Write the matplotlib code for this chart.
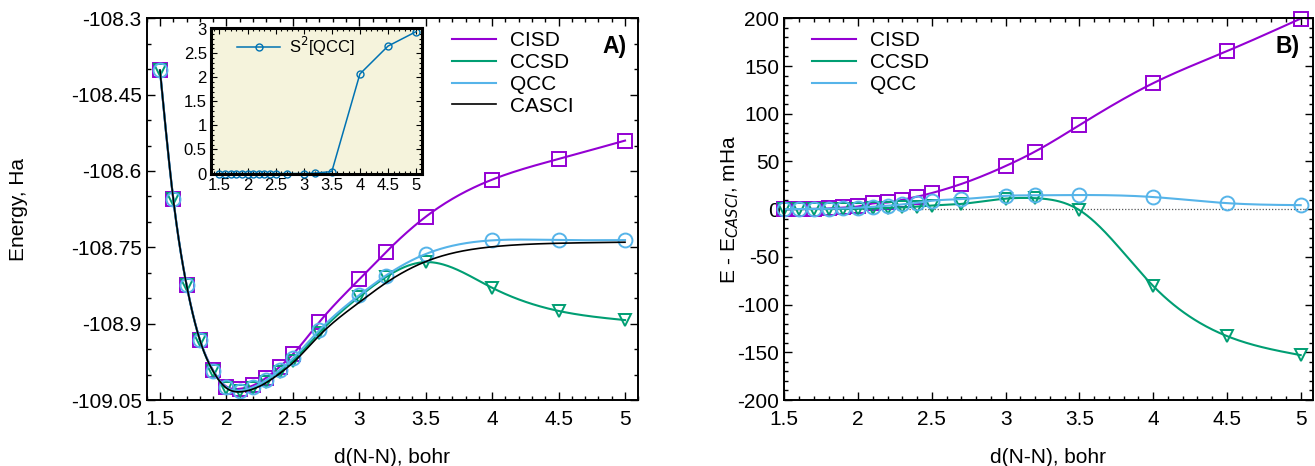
import numpy as np
import matplotlib
matplotlib.use("Agg")
import matplotlib.pyplot as plt
from matplotlib.ticker import MultipleLocator, FormatStrFormatter

plt.rcParams['font.family'] = ['Liberation Sans', 'DejaVu Sans']
plt.rcParams['axes.unicode_minus'] = False

# bond lengths, bohr
d = [1.5, 1.6, 1.7, 1.8, 1.9, 2.0, 2.1, 2.2, 2.3, 2.4, 2.5, 2.7, 3.0, 3.2, 3.5, 4.0, 4.5, 5.0]

# CASCI energies, Ha
e_casci = [-108.402, -108.655, -108.824, -108.932, -108.9935, -109.0265, -109.034, -109.0285,
           -109.016, -108.998, -108.977, -108.923, -108.858, -108.820, -108.778, -108.749,
           -108.742, -108.740]

# E - E_CASCI, mHa
d_cisd = [0.0, 0.0, 0.3, 0.7, 1.8, 2.8, 6.0, 7.0, 9.8, 13.0, 16.9, 26.4, 45.2, 60.4, 88.0, 132.0, 165.6, 199.7]
d_ccsd = [0.0, 0.0, 0.0, 0.1, 0.2, 0.4, 0.8, 1.2, 1.8, 2.7, 3.8, 5.5, 11.0, 11.5, -1.0, -80.5, -133.0, -153.0]
d_qcc = [0.0, 0.1, 0.2, 0.4, 0.8, 1.5, 2.5, 3.5, 5.0, 6.7, 8.8, 10.5, 14.0, 14.5, 14.8, 12.7, 6.3, 4.2]

# <S^2> of QCC wavefunction
s2_qcc = [0, 0, 0, 0, 0, 0, 0, 0, 0, 0, 0, 0, 0, 0.01, 0.04, 2.07, 2.65, 2.95]

c_cisd = '#9400d3'
c_ccsd = '#009e73'
c_qcc = '#56b4e9'
c_s2 = '#0072b2'

FS = 15


def cspline(x, y, num=400):
    # natural cubic spline, like gnuplot "smooth csplines"
    x = np.asarray(x, float)
    y = np.asarray(y, float)
    n = len(x)
    h = np.diff(x)
    A = np.zeros((n, n))
    b = np.zeros(n)
    A[0, 0] = A[-1, -1] = 1
    for i in range(1, n - 1):
        A[i, i - 1] = h[i - 1]
        A[i, i] = 2 * (h[i - 1] + h[i])
        A[i, i + 1] = h[i]
        b[i] = 6 * ((y[i + 1] - y[i]) / h[i] - (y[i] - y[i - 1]) / h[i - 1])
    M = np.linalg.solve(A, b)
    xs = np.linspace(x[0], x[-1], num)
    k = np.clip(np.searchsorted(x, xs) - 1, 0, n - 2)
    t0 = x[k + 1] - xs
    t1 = xs - x[k]
    hk = h[k]
    ys = (M[k] * t0 ** 3 / (6 * hk) + M[k + 1] * t1 ** 3 / (6 * hk)
          + (y[k] / hk - M[k] * hk / 6) * t0 + (y[k + 1] / hk - M[k + 1] * hk / 6) * t1)
    return xs, ys


def style(ax, xmin, xmax):
    for s in ax.spines.values():
        s.set_linewidth(1.4)
    ax.tick_params(which='both', direction='in', top=True, right=True, labelsize=FS, width=1.0)
    ax.tick_params(which='major', length=6)
    ax.tick_params(which='minor', length=3)
    ax.tick_params(axis='x', pad=7)
    ax.set_xlim(xmin, xmax)
    ax.xaxis.set_major_locator(MultipleLocator(0.5))
    ax.xaxis.set_minor_locator(MultipleLocator(0.1))
    ax.xaxis.set_major_formatter(FormatStrFormatter('%g'))
    ax.set_xlabel('d(N-N), bohr', fontsize=FS, labelpad=14)


casci = np.array(e_casci)
e_cisd = casci + np.array(d_cisd) / 1000
e_ccsd = casci + np.array(d_ccsd) / 1000
e_qcc = casci + np.array(d_qcc) / 1000

W, H = 1315, 466
fig = plt.figure(figsize=(W / 100, H / 100), dpi=100)
leg_kw = dict(frameon=False, fontsize=FS, handlelength=2.1, handletextpad=0.67,
              labelspacing=0.14, borderpad=0, borderaxespad=0)

# ---------------- panel A ----------------
ax1 = fig.add_axes([146.7 / W, 66 / H, 491.6 / W, 381.7 / H])
ms_kw = dict(mfc='none', mew=1.4, clip_on=False, linestyle='none')
for y, c, m, ms, lab in [(e_cisd, c_cisd, 's', 10, 'CISD'),
                         (e_ccsd, c_ccsd, 'v', 8.5, 'CCSD'),
                         (e_qcc, c_qcc, 'o', 10, 'QCC')]:
    xs, ys = cspline(d, y)
    ax1.plot(xs, ys, color=c, lw=1.5, label=lab)
    ax1.plot(d, y, marker=m, ms=ms, mec=c, **ms_kw)
xs, ys = cspline(d, casci)
ax1.plot(xs, ys, color='black', lw=1.2, label='CASCI')

ax1.set_ylim(-109.05, -108.3)
ax1.set_yticks([-108.3, -108.45, -108.6, -108.75, -108.9, -109.05])
ax1.yaxis.set_major_formatter(FormatStrFormatter('%g'))
ax1.yaxis.set_minor_locator(MultipleLocator(0.05))
style(ax1, 1.4, 5.1)
ax1.set_ylabel('Energy, Ha', fontsize=FS)
ax1.yaxis.set_label_coords(-0.2415, 0.5)
ax1.legend(loc='upper left', bbox_to_anchor=(452 / W, 1 - 31 / H), bbox_transform=fig.transFigure,
           **leg_kw)
ax1.text(0.977, 0.927, 'A)', transform=ax1.transAxes, fontsize=16.5, fontweight='bold',
         ha='right', va='center')

# inset: S^2
ax3 = fig.add_axes([211 / W, 1 - 174 / H, 210.7 / W, 145.7 / H])
ax3.set_facecolor('#f5f3dc')
ax3.plot(d, s2_qcc, color=c_s2, lw=1.1, marker='o', ms=5, mfc='none', mew=1.0,
         clip_on=False, label='S$^2$[QCC]')
ax3.set_xlim(1.35, 5.1)
ax3.set_ylim(-0.01, 3.02)
for s in ax3.spines.values():
    s.set_linewidth(2.2)
ax3.tick_params(which='both', direction='in', top=True, right=True, labelsize=12, width=0.8, pad=3)
ax3.tick_params(which='major', length=4)
ax3.tick_params(which='minor', length=2)
ax3.xaxis.set_major_locator(MultipleLocator(0.5))
ax3.xaxis.set_minor_locator(MultipleLocator(0.1))
ax3.yaxis.set_major_locator(MultipleLocator(0.5))
ax3.yaxis.set_minor_locator(MultipleLocator(0.1))
ax3.xaxis.set_major_formatter(FormatStrFormatter('%g'))
ax3.yaxis.set_major_formatter(FormatStrFormatter('%g'))
ax3.legend(loc='upper left', bbox_to_anchor=(237 / W, 1 - 35 / H), bbox_transform=fig.transFigure,
           frameon=False, fontsize=12, handlelength=2.6, handletextpad=0.5,
           borderpad=0, borderaxespad=0, numpoints=1)

# ---------------- panel B ----------------
ax2 = fig.add_axes([784.3 / W, 66 / H, 528.2 / W, 381.7 / H])
ax2.axhline(0, color='#555555', lw=0.9, ls=(0, (1, 1.5)), zorder=1)
for y, c, m, ms, lab in [(d_cisd, c_cisd, 's', 10, 'CISD'),
                         (d_ccsd, c_ccsd, 'v', 8.5, 'CCSD'),
                         (d_qcc, c_qcc, 'o', 10, 'QCC')]:
    xs, ys = cspline(d, y)
    ax2.plot(xs, ys, color=c, lw=1.5, label=lab)
    ax2.plot(d, y, marker=m, ms=ms, mec=c, **ms_kw)
ax2.set_ylim(-200, 200)
ax2.yaxis.set_major_locator(MultipleLocator(50))
ax2.yaxis.set_minor_locator(MultipleLocator(10))
ax2.yaxis.set_major_formatter(FormatStrFormatter('%g'))
style(ax2, 1.5, 5.08)
ax2.set_ylabel('E - E$_{CASCI}$, mHa', fontsize=FS)
ax2.yaxis.set_label_coords(-0.082, 0.5)
ax2.legend(loc='upper left', bbox_to_anchor=(812 / W, 1 - 31 / H), bbox_transform=fig.transFigure,
           **leg_kw)
ax2.text(0.976, 0.925, 'B)', transform=ax2.transAxes, fontsize=16.5, fontweight='bold',
         ha='right', va='center')

fig.savefig('out.png', dpi=100)
